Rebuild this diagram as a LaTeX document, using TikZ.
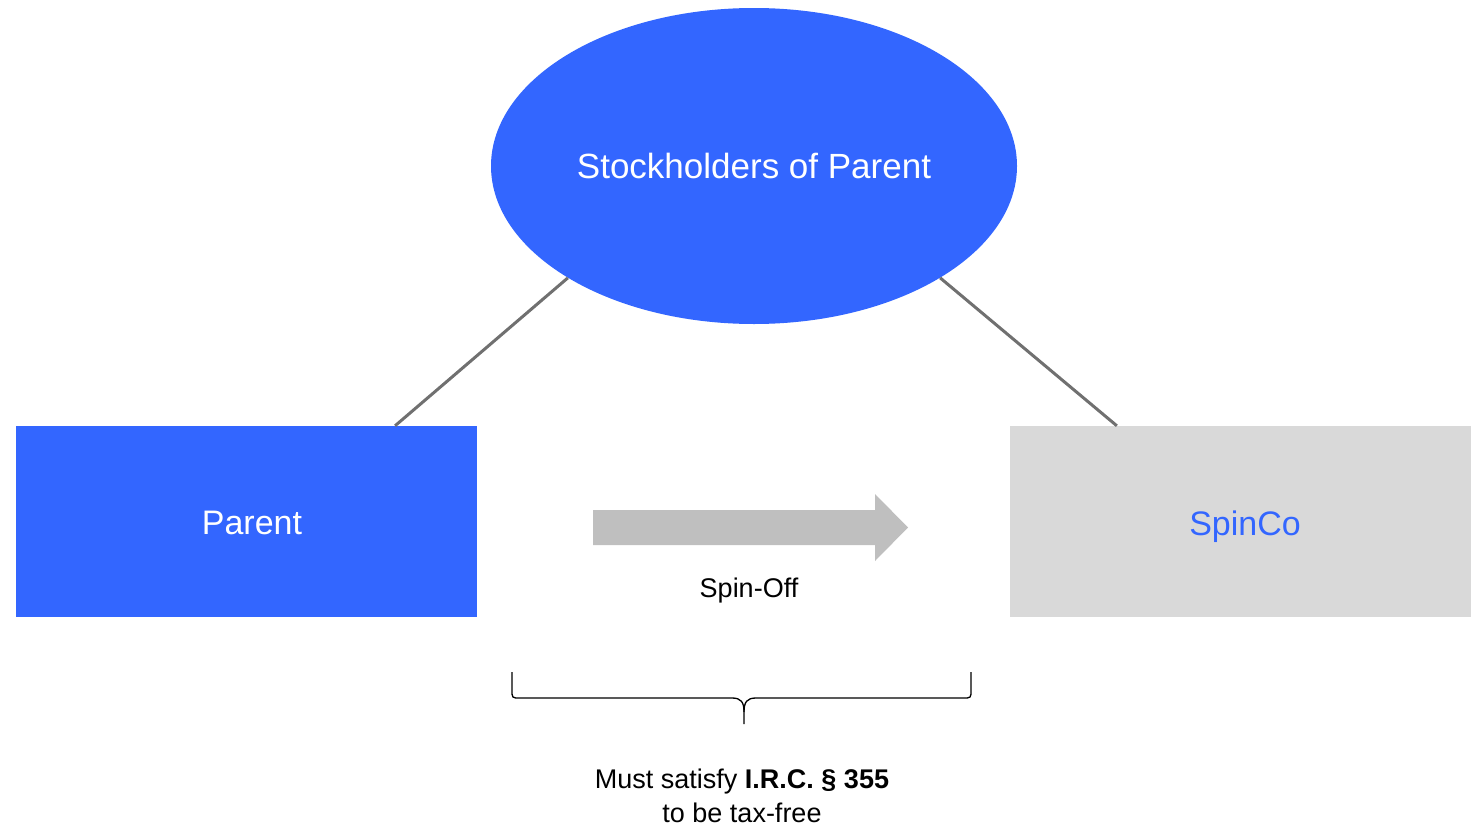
\documentclass[tikz,border=0pt]{standalone}
\usepackage{fontspec}
\setmainfont{Liberation Sans}
\usetikzlibrary{shapes.geometric,calc}
\definecolor{pblue}{HTML}{3366FF}
\definecolor{pgray}{HTML}{D9D9D9}
\definecolor{agray}{HTML}{BFBFBF}
\definecolor{lgray}{HTML}{707070}
\begin{document}
\begin{tikzpicture}[x=1pt,y=-1pt,
  entity/.style={rectangle,minimum width=461pt,minimum height=191pt,inner sep=0pt},
  link/.style={draw=lgray,line width=3pt},
  lbl/.style={font=\fontsize{27}{34}\selectfont,inner sep=0pt}]
\useasboundingbox (0,0) rectangle (1478,827);
\node[ellipse,fill=pblue,minimum width=526pt,minimum height=316pt,inner sep=0pt,
  text=white,font=\fontsize{35}{42}\selectfont] (holders) at (754,166) {Stockholders of Parent};
\node[entity,fill=pblue] (parent) at (246.5,521.5) {};
\node[entity,fill=pgray] (spinco) at (1240.5,521.5) {};
\node[text=white,font=\fontsize{34}{40}\selectfont,inner sep=0pt] (ptxt) at (252,523) {Parent};
\node[text=pblue,font=\fontsize{34}{40}\selectfont,inner sep=0pt] (stxt) at (1245,527) {SpinCo};
\draw[link] (holders.211) -- ($(parent.north west)!0.822!(parent.north east)$);
\draw[link] (holders.-31) -- ($(spinco.north west)!0.232!(spinco.north east)$);
\fill[agray] (593,510) -- (875,510) -- (875,494) -- (908,527.5) -- (875,561) -- (875,545) -- (593,545) -- cycle;
\node[lbl] (spin) at (749,591) {Spin-Off};
\coordinate (bl) at (512,672);
\coordinate (br) at (971,672);
\coordinate (bt) at (744,724);
\draw[line width=1.3pt] (bl) -- (512,690) .. controls (512,698) and (512,698) .. (520,698)
  -- (732,698) .. controls (741,698) and (744,702) .. (744,712) -- (bt);
\draw[line width=1.3pt] (br) -- (971,690) .. controls (971,698) and (971,698) .. (963,698)
  -- (756,698) .. controls (747,698) and (744,702) .. (744,712);
\node[lbl,align=center,anchor=north] (cond) at (742,769) {Must satisfy \textbf{I.R.C. § 355}\\to be tax-free};
\end{tikzpicture}
\end{document}
